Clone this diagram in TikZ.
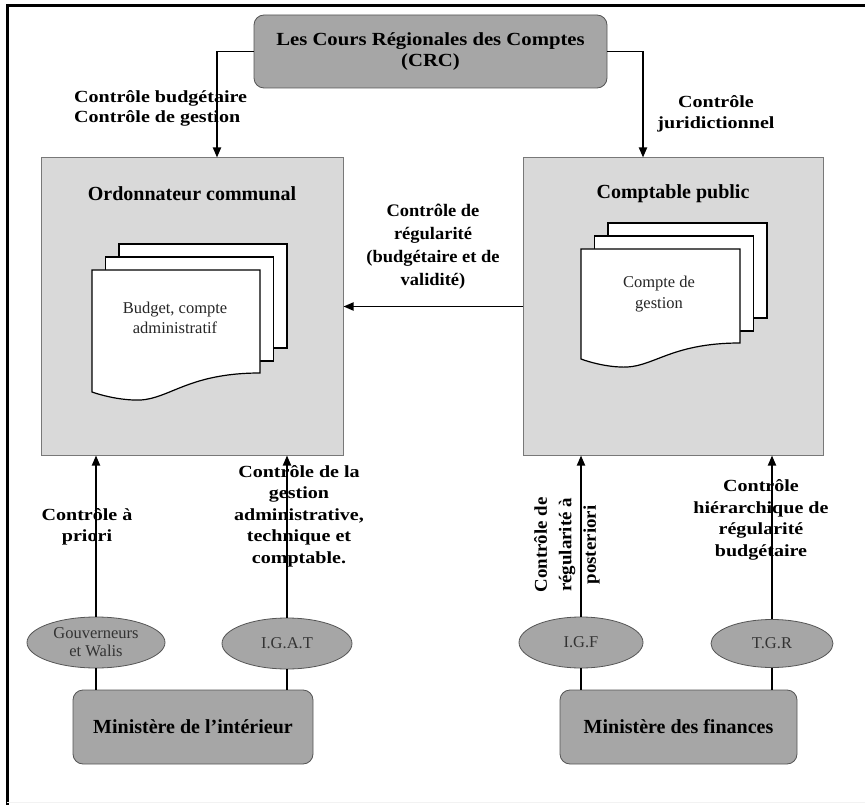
\documentclass[tikz,border=0pt]{standalone}
\usepackage{fontspec}
\setmainfont{Liberation Serif}
\newfontfamily\lblfont[FakeStretch=1.18]{Liberation Serif}
\newfontfamily\midfont[FakeStretch=1.05]{Liberation Serif}
\newfontfamily\crcfont[FakeStretch=1.12]{Liberation Serif}
\usetikzlibrary{shapes.geometric,arrows.meta}
\definecolor{darkfill}{RGB}{166,166,166}
\definecolor{lightfill}{RGB}{217,217,217}
\definecolor{edgegray}{RGB}{85,85,85}
\definecolor{paneledge}{RGB}{120,120,120}
\newcommand\mydocs[6]{%
  \foreach \k in {2,1} {\filldraw[docst] (#1+\k*13.5,#2-\k*13) rectangle ++(#3,#4+1);}
  \filldraw[docst] (#1,#2) -- (#1+#3,#2) -- (#1+#3,#2+#4)
    .. controls (#1+0.55*#3,#2+#4) and (#1+0.45*#3,#2+#6+2) .. (#1+0.25*#3,#2+#6)
    .. controls (#1+0.15*#3,#2+#6-0.5) and (#1+0.05*#3,#2+#5+3) .. (#1,#2+#5) -- cycle;
}
\begin{document}
\begin{tikzpicture}[x=1pt,y=-1pt,
  darkbox/.style={draw=edgegray, fill=darkfill, rounded corners=10pt, line width=0.8pt, inner sep=0pt},
  panel/.style={draw=paneledge, fill=lightfill, line width=1pt, inner sep=0pt},
  oval/.style={ellipse, draw=edgegray, fill=darkfill, line width=0.8pt, inner sep=0pt,
    font=\fontsize{16.5}{18}\selectfont, align=center, text=black!80},
  docst/.style={draw=black, fill=white, line width=1.2pt},
  arr/.style={line width=1.8pt, -{Triangle[length=10pt,width=8pt]}},
  link/.style={line width=1.3pt},
  lbl/.style={font=\lblfont\bfseries\fontsize{17}{21.5}\selectfont, align=center, inner sep=0pt},
  title/.style={font=\bfseries\fontsize{20}{24}\selectfont, inner sep=0pt},
  doctext/.style={font=\fontsize{16.5}{20.5}\selectfont, align=center, inner sep=0pt, text=black!85}
]
\useasboundingbox (0,0) rectangle (865,805);
% frame
\draw[line width=3pt] (7,805) -- (7,6) -- (865,6);
\draw[gray!10, line width=1pt] (7,802) -- (865,802);

% boxes
\node[darkbox, minimum width=353pt, minimum height=73pt,
  font=\crcfont\bfseries\fontsize{18.5}{21}\selectfont, align=center] (crc) at (430.5,51.5)
  {Les Cours Régionales des Comptes\\(CRC)};
\node[panel, minimum width=302pt, minimum height=297pt] (ord) at (192,306.5) {};
\node[panel, minimum width=300pt, minimum height=297pt] (cpt) at (673,306.5) {};
\node[title] (ordt) at (192,194) {Ordonnateur communal};
\node[title] (cptt) at (673,194) {Comptable public};

% documents
\mydocs{92}{270}{168}{103}{122}{130}
\mydocs{581}{249}{159}{94}{110}{118}
\node[doctext] (doc1) at (175,318) {Budget, compte\\administratif};
\node[doctext] (doc2) at (659,294) {Compte de\\gestion};

% ellipses and ministries
\node[oval, minimum width=138pt, minimum height=51pt] (gouv) at (96,642.5) {Gouverneurs\\et Walis};
\node[oval, minimum width=130pt, minimum height=51pt] (igat) at (287,643.5) {I.G.A.T};
\node[oval, minimum width=124pt, minimum height=51pt] (igf) at (581,642.5) {I.G.F};
\node[oval, minimum width=122pt, minimum height=48pt] (tgr) at (772,643.5) {T.G.R};
\node[darkbox, minimum width=240pt, minimum height=74pt, title] (mint) at (193,727) {Ministère de l’intérieur};
\node[darkbox, minimum width=237pt, minimum height=74pt, title] (mfin) at (678.5,727) {Ministère des finances};

% connectors
\draw[arr] (crc.west) -| ([xshift=25pt]ord.north);
\draw[arr] (crc.east) -| ([xshift=-30pt]cpt.north);
\draw[arr] (cpt.west) -- (ord.east);
\draw[arr] (gouv.north) -- (gouv.north |- ord.south);
\draw[arr] (igat.north) -- (igat.north |- ord.south);
\draw[arr] (igf.north) -- (igf.north |- cpt.south);
\draw[arr] (tgr.north) -- (tgr.north |- cpt.south);
\draw[link] (gouv.south) -- (gouv.south |- mint.north);
\draw[link] (igat.south) -- (igat.south |- mint.north);
\draw[link] (igf.south) -- (igf.south |- mfin.north);
\draw[link] (tgr.south) -- (tgr.south |- mfin.north);

% labels
\node[lbl, align=left, anchor=west, font=\lblfont\bfseries\fontsize{17}{20}\selectfont] (l1) at (74,108)
  {Contrôle budgétaire\\Contrôle de gestion};
\node[lbl, font=\lblfont\bfseries\fontsize{17}{20.5}\selectfont] (l2) at (716,114) {Contrôle\\juridictionnel};
\node[lbl, font=\midfont\bfseries\fontsize{17.6}{23}\selectfont] (l3) at (433,246.5)
  {Contrôle de\\régularité\\(budgétaire et de\\validité)};
\node[lbl] (l4) at (87,527) {Contrôle à\\priori};
\node[lbl] (l5) at (299,516) {Contrôle de la\\gestion\\administrative,\\technique et\\comptable.};
\node[lbl, rotate=90, font=\midfont\bfseries\fontsize{18}{24.5}\selectfont] (l6) at (567,545)
  {Contrôle de\\régularité à\\posteriori};
\node[lbl] (l7) at (761,520) {Contrôle\\hiérarchique de\\régularité\\budgétaire};
\end{tikzpicture}
\end{document}
